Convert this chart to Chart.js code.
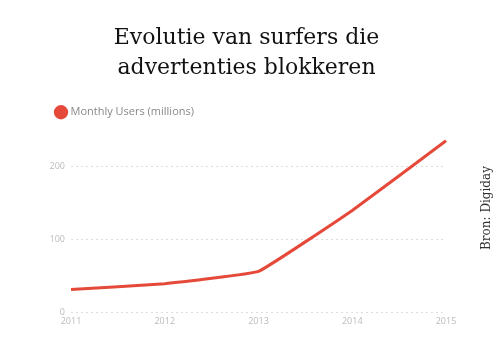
<!DOCTYPE html>
<html>
<head>
<meta charset="utf-8">
<script src="https://cdn.jsdelivr.net/npm/chart.js@4"></script>
<style>
  html, body { margin: 0; padding: 0; background: #fff; }
  #wrap { width: 500px; height: 350px; position: relative; }
</style>
</head>
<body>
<div id="wrap"><canvas id="adblockChart" width="500" height="350"></canvas></div>
<script>
// Data
var years = ['2011', '2012', '2013', '2014', '2015'];
var monthlyUsers = [31, 39, 56, 140, 236];
var yTicks = [0, 100, 200];

var titleLines = ['Evolutie van surfers die', 'advertenties blokkeren'];
var sourceText = 'Bron: Digiday';

// vertical source label on the right edge
var sourceLabel = {
    id: 'sourceLabel',
    afterDraw: function(chart) {
        var ctx = chart.ctx;
        ctx.save();
        ctx.translate(487, 208);
        ctx.rotate(-Math.PI / 2);
        ctx.font = '12px "DejaVu Serif"';
        ctx.fillStyle = '#333';
        ctx.textAlign = 'center';
        ctx.textBaseline = 'middle';
        ctx.fillText(sourceText, 0, 0);
        ctx.restore();
    }
};

const ctx = document.getElementById('adblockChart').getContext('2d');
const adblockChart = new Chart(ctx, {
    type: 'line',
    data: {
        labels: years,
        datasets: [{
            label: 'Monthly Users (millions)',
            data: monthlyUsers,
            borderColor: '#e5493a',
            backgroundColor: '#e5493a',
            borderWidth: 3,
            pointRadius: 0,
            tension: 0.08,
            fill: false
        }]
    },
    options: {
        responsive: false,
        animation: false,
        layout: {
            padding: { left: 47, right: 54, top: 0, bottom: 0 }
        },
        plugins: {
            title: {
                display: true,
                text: titleLines,
                color: '#111',
                font: { family: '"DejaVu Serif"', size: 22, weight: 'normal', lineHeight: 1.38 },
                padding: { top: 23, bottom: 13 }
            },
            legend: {
                position: 'top',
                align: 'start',
                labels: {
                    usePointStyle: true,
                    pointStyle: 'circle',
                    boxWidth: 8,
                    boxHeight: 8,
                    color: '#888',
                    font: { family: '"Open Sans"', size: 11 },
                    padding: 10
                }
            },
            tooltip: { enabled: false }
        },
        scales: {
            x: {
                offset: false,
                grid: { display: false, drawTicks: false },
                border: { display: false },
                ticks: {
                    color: '#bbb',
                    font: { family: '"Open Sans"', size: 9 },
                    padding: 4,
                    maxRotation: 0
                },
                afterFit: function(scale) { scale.height = 38; }
            },
            y: {
                min: 0,
                max: 254,
                border: { display: false, dash: [2, 3] },
                grid: {
                    color: '#ddd',
                    lineWidth: 1,
                    drawTicks: false
                },
                ticks: {
                    color: '#bbb',
                    font: { family: '"Open Sans"', size: 9 },
                    padding: 6
                },
                afterBuildTicks: function(scale) {
                    scale.ticks = yTicks.map(function(v) { return { value: v }; });
                },
                afterFit: function(scale) { scale.width = 24; }
            }
        }
    },
    plugins: [sourceLabel]
});
</script>
</body>
</html>
